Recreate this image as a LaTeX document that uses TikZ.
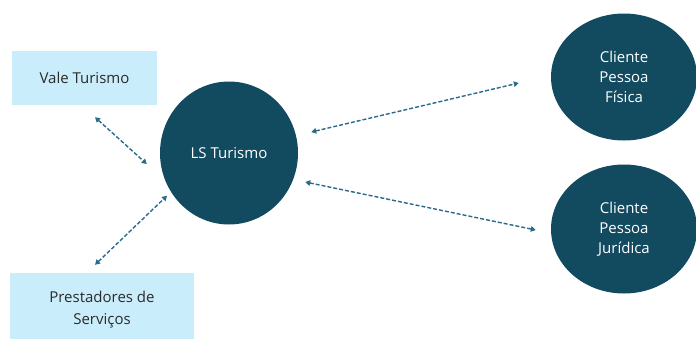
\documentclass[tikz,border=0pt]{standalone}
\usepackage{fontspec}
\setmainfont{Open Sans}
\usetikzlibrary{positioning, shapes.geometric, arrows.meta, calc}

\definecolor{boxblue}{HTML}{CAEDFB}
\definecolor{darkteal}{HTML}{124A5F}
\definecolor{linkblue}{HTML}{2A6B8A}
\definecolor{labelgray}{HTML}{2B2B2B}

\begin{document}
\begin{tikzpicture}[
    x=1pt, y=-1pt,
    box/.style={
        rectangle,
        fill=boxblue,
        align=center,
        text=labelgray,
        inner sep=0pt,
        font=\fontsize{15}{22}\selectfont
    },
    org/.style={
        ellipse,
        fill=darkteal,
        text=white,
        align=center,
        inner sep=0pt,
        font=\fontsize{15}{20}\selectfont
    },
    link/.style={
        linkblue, line width=1.4pt,
        dash pattern=on 4pt off 2pt,
        {Triangle[length=5pt,width=5.5pt]}-{Triangle[length=5pt,width=5.5pt]}
    }
]
\useasboundingbox (0,0) rectangle (696,338);
\clip (0,0) rectangle (696,338);

% Parceiros
\node[box,minimum width=145pt,minimum height=54pt] (vale) at (84.5,78)
{Vale Turismo};
\node[box,minimum width=184pt,minimum height=74pt] (prest) at (102,310)
{Prestadores de\\Serviços};

% Empresa
\node[org,minimum width=138pt,minimum height=143pt] (ls) at (229,153)
{LS Turismo};

% Clientes
\node[org,minimum width=146pt,minimum height=127pt] (pf) at (624,77)
{Cliente\\Pessoa\\Física};
\node[org,minimum width=146pt,minimum height=129pt] (pj) at (624,229)
{Cliente\\Pessoa\\Jurídica};

% Ligações
\draw[link] ($(vale.south)+(10.5,12)$) -- ($(ls.west)+(-13,11)$);
\draw[link] ($(prest.north)+(-7,-8)$) -- ($(ls.south west)+(-13,-8)$);
\draw[link] ($(ls.east)+(13,-21)$) -- ($(pf.west)+(-32,6)$);
\draw[link] ($(ls.east)+(7,29)$) -- ($(pj.west)+(-15,1)$);

\end{tikzpicture}
\end{document}
